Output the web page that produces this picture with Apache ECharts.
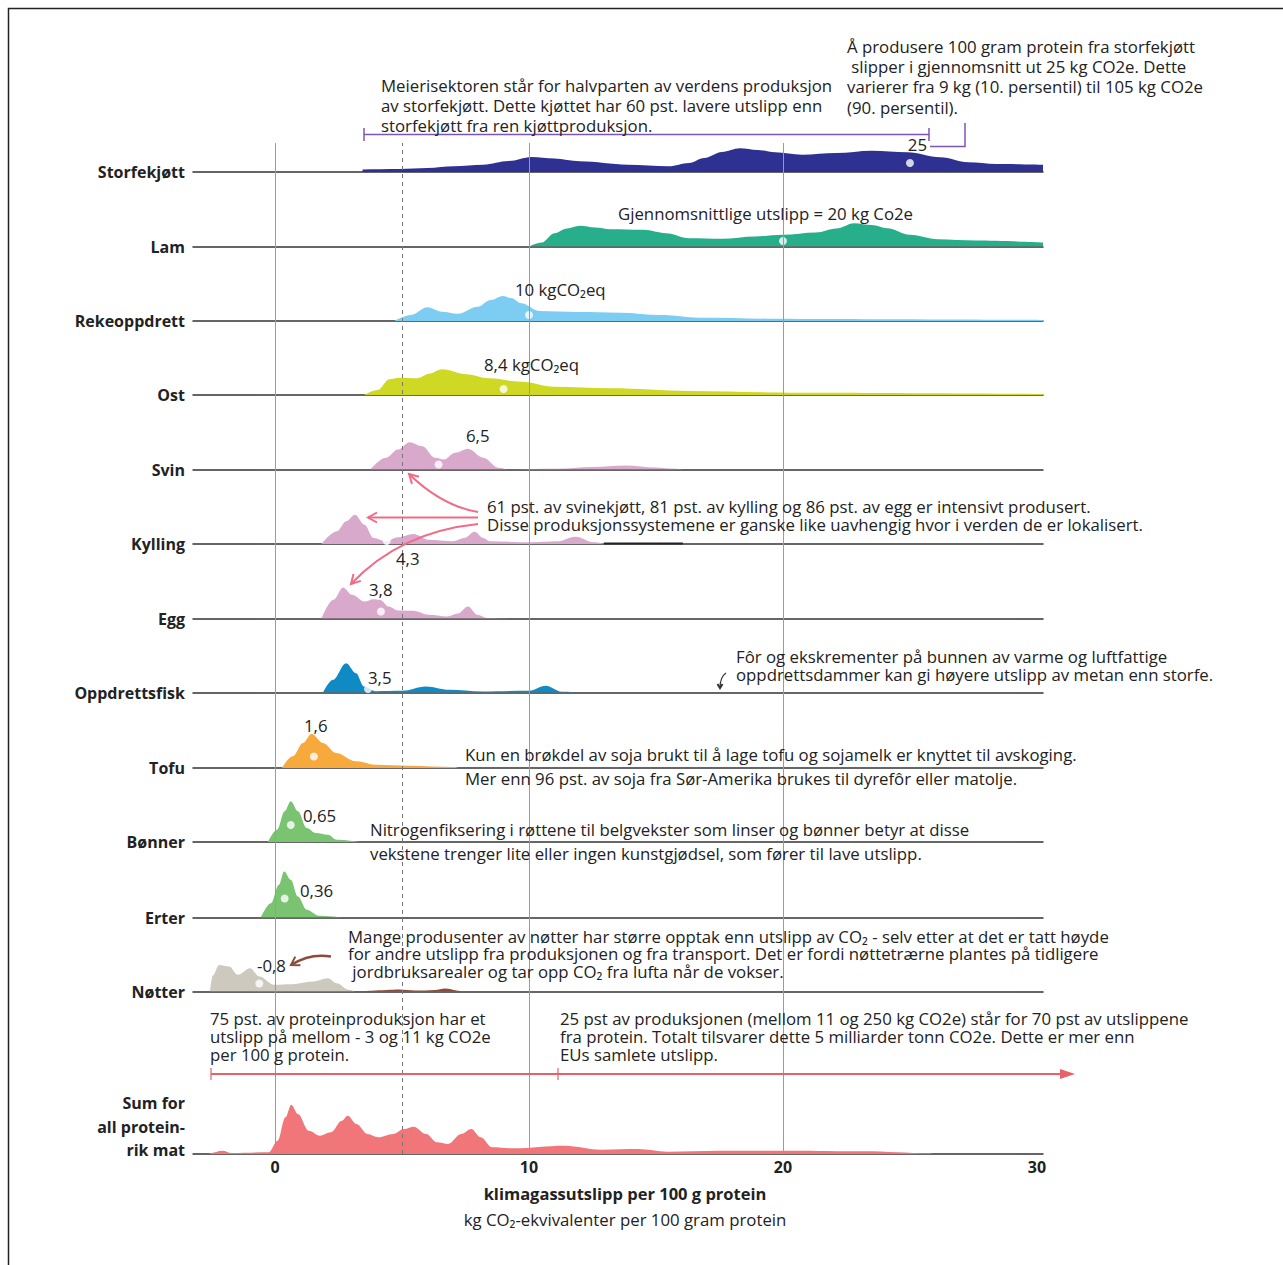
<!DOCTYPE html>
<html><head><meta charset="utf-8">
<script src="https://cdn.jsdelivr.net/npm/echarts@6/dist/echarts.min.js"></script>
<style>html,body{margin:0;padding:0;background:#fff}#c{width:1283px;height:1265px}</style>
</head><body><div id="c"></div><script>
// ---------- DATA ----------
const categories = ['Storfekjøtt','Lam','Rekeoppdrett','Ost','Svin','Kylling','Egg','Oppdrettsfisk','Tofu','Bønner','Erter','Nøtter','Sum for\nall protein-\nrik mat'];

// density curves: [kg CO2e per 100 g protein, relative density]
const storfekjott = [[3.44,0],[3.45,2.6],[4.9,3],[6.0,4],[7.05,5.7],[8.2,7.3],[9.2,11],[10.1,15],[11.0,13.5],[12.0,10.7],[13.9,7.3],[15.5,5.7],[16.3,9],[16.9,14],[17.6,20],[18.3,23.7],[19.0,22],[19.7,19.7],[20.75,17.3],[22.1,19],[23.5,21.3],[24.9,19.7],[26.2,14.7],[27.3,9.7],[28.4,8],[30.3,7.3]];
const lam = [[10.0,0],[10.5,4],[11.0,13.3],[11.5,18],[12.0,20.7],[12.6,19],[13.2,17.3],[14.5,16.7],[15.4,13.3],[16.3,8.3],[17.6,7.7],[18.9,10],[20,11.7],[21.3,14],[22.1,18],[22.8,23.3],[23.5,21.5],[24.1,18.3],[25,11.7],[26.1,7.3],[27.6,6],[30.3,4]];
const rekeoppdrett = [[4.7,0],[5.35,6],[6.0,13.7],[6.57,9.3],[7.2,7.3],[7.98,14.3],[8.5,21],[8.96,25],[9.3,23],[9.7,17.7],[10.4,10],[11.9,9],[13.6,8.3],[15.2,6],[16.7,3.3],[20.6,2],[30.3,1]];
const ost = [[3.5,0],[4.05,5],[4.5,15.7],[4.9,17.3],[5.6,16.7],[6.1,21.5],[6.57,25.7],[7.55,20.7],[8.4,16.7],[9.7,13.3],[11.0,8.3],[13.2,6.7],[16.3,4],[20.6,2.3],[30.3,1]];
const svin = [[3.76,0],[4.36,11.7],[4.84,20],[5.3,27.3],[5.8,23.3],[6.3,11.7],[6.65,10],[7.1,16.7],[7.6,20.7],[8.2,11.7],[8.8,1.7],[9.2,0],[11.1,0.7],[12.5,2.5],[13.8,4],[15.0,2],[15.7,0.7],[16.1,0]];
const kylling = [[1.83,0],[2.44,12.7],[2.8,22.7],[3.15,29.3],[3.52,19.3],[3.88,6],[4.36,2.7],[4.84,6.7],[5.45,10],[6.05,4.3],[7.0,2.7],[7.45,6],[7.86,12.3],[8.2,6],[8.46,2.7],[10.1,1.7],[11.1,2.7],[11.83,7.3],[12.55,1.7],[13,0]];
const egg = [[1.83,0],[2.3,18.7],[2.68,31],[3.03,23.7],[3.52,17],[3.88,19.3],[4.12,18.7],[4.48,12],[4.84,8],[5.45,7.7],[6.05,3.7],[6.78,2],[7.2,5],[7.6,12],[7.97,3.7],[8.34,0.5],[9.3,0]];
const oppdrettsfisk = [[1.89,0],[2.28,12.7],[2.8,29.3],[3.19,19.3],[3.5,6],[3.97,1.3],[5.0,1.7],[5.94,6],[6.86,2.7],[8.17,1],[10.0,1.7],[10.66,6.7],[11.3,0.7],[12,0]];
const tofu = [[0.27,0],[0.7,11.7],[1.1,25],[1.44,34.3],[1.89,25],[2.4,15],[3.19,6.7],[3.97,3.3],[5.28,2.3],[7.1,1],[7.2,0]];
const bonner = [[-0.28,0],[0.08,12.3],[0.38,30.7],[0.62,40.7],[0.9,30.7],[1.25,14],[1.6,9],[2.08,7.3],[2.43,2.3],[3.38,0]];
const erter = [[-0.56,0],[-0.16,14.3],[0.15,32.7],[0.36,46],[0.62,37.7],[0.9,21],[1.25,7.7],[1.73,1.7],[2.67,0]];
const notter = [[-2.56,0],[-2.45,16],[-2.2,26.5],[-1.81,25],[-1.46,16.7],[-0.98,23.3],[-0.62,15],[-0.03,6.7],[0.67,7.3],[1.49,10],[2.08,13.3],[2.43,8.3],[2.9,1.7],[3.14,0]];
const notterPositive = [[3.14,0],[3.8,0.8],[4.4,1.5],[4.9,2],[5.5,1],[6.3,1.5],[6.7,3],[7.1,1.3],[7.4,0]];
const kyllingTail = [[12.95,0.6],[16.06,0.6]];
const sumAll = [[-2.57,0],[-2.56,1],[-2.07,3.3],[-1.7,1],[-0.25,1.7],[0.1,13.3],[0.41,36.7],[0.64,49.3],[0.9,40],[1.33,23.3],[1.77,18.3],[2.2,21.7],[2.63,33.3],[2.86,38.3],[3.21,30],[3.64,20],[4.07,16.7],[4.65,20],[5.08,25],[5.46,27.3],[5.95,20],[6.38,11.7],[6.81,10],[7.33,20],[7.73,25],[8.1,16.7],[8.54,6.7],[9.4,5.7],[11.4,8.3],[12.86,4.3],[14.3,5],[15.45,2.3],[17.46,3.3],[20.35,3.3],[23.2,2.7],[25.8,0.7],[25.85,0]];

// averages (white dots) and the density height they sit at
const averages = [25,20,10,9.0,6.44,4.4,4.17,3.66,1.53,0.62,0.38,-0.62];
const averageHeights = [9,5.5,6,6,5,3,7,3.5,11.5,17,19,8];
const averageLabels = ['25','Gjennomsnittlige utslipp = 20 kg Co2e','10 kgCO₂eq','8,4 kgCO₂eq','6,5','4,3','3,8','3,5','1,6','0,65','0,36','-0,8'];

const xTicks = [0,10,20,30];
const solidGridValues = [0,10,20];
const dashedGridValue = 5;

// ---------- LAYOUT / STYLE ----------
const densities = [storfekjott,lam,rekeoppdrett,ost,svin,kylling,egg,oppdrettsfisk,tofu,bonner,erter,notter,sumAll];
const colors = ['#2e3192','#27ae8a','#7dcdf3','#cfd823','#d9a9cb','#d9a9cb','#d9a9cb','#0f8ac4','#f7a93b','#7ac371','#7ac371','#cec9bf','#f07679'];
const baselines = [172,246.5,321,395,469.5,544,618.5,692.5,768,842,917.5,991.5,1154];
const labelPos = [[927,144,'right'],[618,213,'left'],[515,289,'left'],[484,364,'left'],[466,435,'left'],[396,558,'left'],[369,589,'left'],[368,677,'left'],[304,725,'left'],[303,815,'left'],[300,890,'left'],[257,965,'left']];
const FONT = "'Open Sans', 'Noto Sans', sans-serif";
const FS = 16.8;
const XMIN = -3.23, XMAX = 30.24, H = 60, LEFT = 193, RIGHT = 240;

const chart = echarts.init(document.getElementById('c'), null, {renderer:'svg', width:1283, height:1265});
const grids=[], xAxes=[], yAxes=[], series=[];
grids.push({left:LEFT,right:RIGHT,top:143,height:baselines[12]-143});
xAxes.push({gridIndex:0,type:'value',min:XMIN,max:XMAX,show:false});
yAxes.push({gridIndex:0,type:'value',min:0,max:1,show:false});
series.push({type:'line',xAxisIndex:0,yAxisIndex:0,data:[],z:1,silent:true,animation:false,
  markLine:{silent:true,symbol:'none',label:{show:false},animation:false,
    data:[...solidGridValues.map(v=>({xAxis:v,lineStyle:{color:'#9b9b9b',width:1,type:'solid'}})),
          {xAxis:dashedGridValue,lineStyle:{color:'#777',width:1,type:[4,4]}}]}});

densities.forEach((d,i)=>{
  const gi = i+1, last = i===densities.length-1;
  grids.push({left:LEFT,right:RIGHT,top:baselines[i]-H,height:H});
  xAxes.push({gridIndex:gi,type:'value',min:XMIN,max:XMAX,
    axisLine:{show:true,onZero:false,lineStyle:{color:'#333',width:1.5}},
    axisTick:{show:false},splitLine:{show:false},
    axisLabel: last ? {show:true,customValues:xTicks,fontFamily:FONT,fontWeight:'bold',fontSize:16,color:'#222',margin:5} : {show:false},
    name: last ? 'klimagassutslipp per 100 g protein' : '',
    nameLocation:'middle',nameGap:31,
    nameTextStyle:{fontFamily:FONT,fontWeight:'bold',fontSize:16.5,color:'#222',padding:[0,0,0,14]}});
  yAxes.push({gridIndex:gi,type:'value',min:0,max:H,show:false});
  series.push({type:'line',xAxisIndex:gi,yAxisIndex:gi,data:d,smooth:0.35,smoothMonotone:'x',showSymbol:false,
    lineStyle:{width:0},areaStyle:{color:colors[i],opacity:1},z:3,silent:true,animation:false});
  if (i < averages.length) {
    series.push({type:'scatter',xAxisIndex:gi,yAxisIndex:gi,data:[[averages[i],averageHeights[i]]],symbolSize:8,
      itemStyle:{color:'#fff'},z:4,silent:true,animation:false});
  }
});
// extra pieces
series.push({type:'line',xAxisIndex:12,yAxisIndex:12,data:notterPositive,smooth:0.35,showSymbol:false,
  lineStyle:{width:0},areaStyle:{color:'#8b4b3b',opacity:1},z:3,silent:true,animation:false});
series.push({type:'line',xAxisIndex:6,yAxisIndex:6,data:kyllingTail,showSymbol:false,
  lineStyle:{width:2,color:'#222'},z:3,silent:true,animation:false});

// ---------- GRAPHIC ANNOTATIONS ----------
const g = [];
function txt(text,x,yCenter,o){o=o||{};const lh=o.lh||20;
  g.push({type:'text',x:x,y:yCenter-lh/2,silent:true,z:10,style:{text:text,fill:o.fill||'#222',
    font:(o.bold?'bold ':'')+(o.size||FS)+'px '+FONT,textAlign:o.align||'left',textVerticalAlign:'top',lineHeight:lh}});}
function line(points,color,w,dash){g.push({type:'polyline',silent:true,z:9,shape:{points:points},style:{stroke:color,lineWidth:w||1.5,fill:null,lineDash:dash||null}});}
function head(tip,from,color,len,half,filled){
  const dx=tip[0]-from[0],dy=tip[1]-from[1],l=Math.hypot(dx,dy),ux=dx/l,uy=dy/l;
  const b=[tip[0]-ux*len,tip[1]-uy*len];
  const p1=[b[0]-uy*half,b[1]+ux*half],p2=[b[0]+uy*half,b[1]-ux*half];
  if(filled) g.push({type:'polygon',silent:true,z:9,shape:{points:[p1,tip,p2]},style:{fill:color}});
  else line([p1,tip,p2],color,2);
}
function curve(s,c,e,color,w){g.push({type:'bezierCurve',silent:true,z:9,shape:{x1:s[0],y1:s[1],x2:e[0],y2:e[1],cpx1:c[0],cpy1:c[1]},style:{stroke:color,lineWidth:w,fill:null}});}

// frame
line([[8.5,1265],[8.5,8.5],[1283,8.5]],'#222',1.5);

// row labels
categories.forEach((c,i)=>{
  if(i<12) txt(c,185,baselines[i],{bold:true,align:'right',size:16});
  else txt(c,185,1103,{bold:true,align:'right',lh:23.5,size:16});
});
// average labels
averageLabels.forEach((t,i)=>txt(t,labelPos[i][0],labelPos[i][1],{align:labelPos[i][2]}));

// storfekjøtt annotations
txt('Å produsere 100 gram protein fra storfekjøtt\n slipper i gjennomsnitt ut 25 kg CO2e. Dette\nvarierer fra 9 kg (10. persentil) til 105 kg CO2e\n(90. persentil).',847,46,{lh:20.4});
txt('Meierisektoren står for halvparten av verdens produksjon\nav storfekjøtt. Dette kjøttet har 60 pst. lavere utslipp enn\nstorfekjøtt fra ren kjøttproduksjon.',381,85,{lh:20});
const PURPLE='#7d56b3';
line([[364,134.5],[929,134.5]],PURPLE,1.5);
line([[364,128],[364,141]],PURPLE,1.5);
line([[929,128],[929,141]],PURPLE,1.5);
line([[930,146.5],[965,146.5],[965,123]],PURPLE,1.5);

// intensive production
const PINK='#f06c86';
txt('61 pst. av svinekjøtt, 81 pst. av kylling og 86 pst. av egg er intensivt produsert.\nDisse produksjonssystemene er ganske like uavhengig hvor i verden de er lokalisert.',487,506,{lh:18});
curve([478,512],[442,506],[409,474],PINK,2); head([409,474],[442,506],PINK,9,5);
line([[478,517.5],[368,517.5]],PINK,2); head([368,517.5],[400,517.5],PINK,9,5);
curve([478,524],[400,532],[351,584],PINK,2); head([351,584],[400,532],PINK,9,5);

// fish
txt('Fôr og ekskrementer på bunnen av varme og luftfattige\noppdrettsdammer kan gi høyere utslipp av metan enn storfe.',736,656,{lh:18});
curve([726,673],[720,677],[720,688],'#333',1.2); head([720,688],[720,680],'#333',4,2.5);

// tofu
txt('Kun en brøkdel av soja brukt til å lage tofu og sojamelk er knyttet til avskoging.',465,754);
txt('Mer enn 96 pst. av soja fra Sør-Amerika brukes til dyrefôr eller matolje.',465,778);
// beans
txt('Nitrogenfiksering i røttene til belgvekster som linser og bønner betyr at disse',370,829);
txt('vekstene trenger lite eller ingen kunstgjødsel, som fører til lave utslipp.',370,853);
// nuts
txt('Mange produsenter av nøtter har større opptak enn utslipp av CO₂ - selv etter at det er tatt høyde\nfor andre utslipp fra produksjonen og fra transport. Det er fordi nøttetrærne plantes på tidligere\n jordbruksarealer og tar opp CO₂ fra lufta når de vokser.',348,936,{lh:17.5});
curve([331,956.5],[310,953],[291,965],'#8b4b3b',2.5); head([291,965],[306,956],'#8b4b3b',8,5);

// sum annotations
txt('75 pst. av proteinproduksjon har et\nutslipp på mellom - 3 og 11 kg CO2e\nper 100 g protein.',210,1018,{lh:18});
txt('25 pst av produksjonen (mellom 11 og 250 kg CO2e) står for 70 pst av utslippene\nfra protein. Totalt tilsvarer dette 5 milliarder tonn CO2e. Dette er mer enn\nEUs samlete utslipp.',560,1018,{lh:18});
const RED='#e8606a';
line([[211,1074],[1062,1074]],RED,2);
line([[211,1068],[211,1080]],RED,1.2);
line([[558,1068],[558,1080]],RED,1.2);
head([1075,1074],[1000,1074],RED,15,5,true);

// axis subtitle
txt('kg CO₂-ekvivalenter per 100 gram protein',625,1219,{align:'center'});

chart.setOption({animation:false,backgroundColor:'#fff',grid:grids,xAxis:xAxes,yAxis:yAxes,series:series,graphic:g});
</script></body></html>
